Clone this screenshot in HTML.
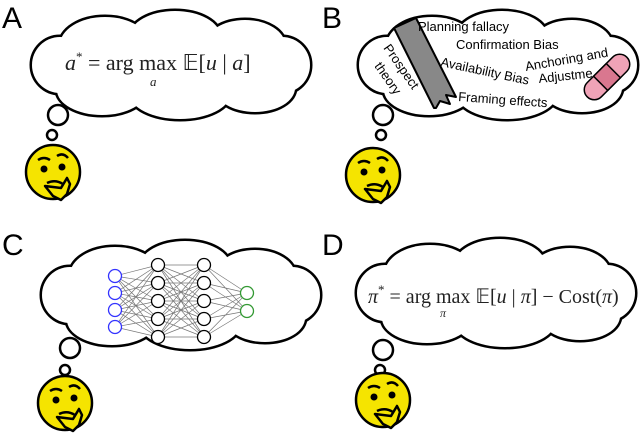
<!DOCTYPE html><html><head><style>body{margin:0;background:#fff}svg{display:block}</style></head><body>
<svg width="640" height="446" viewBox="0 0 640 446" xmlns="http://www.w3.org/2000/svg">
<defs>
<g id="cs"><ellipse cx="140" cy="55" rx="125" ry="35"/><ellipse cx="75" cy="35" rx="45" ry="28"/><ellipse cx="145" cy="26" rx="45" ry="25"/><ellipse cx="215" cy="35" rx="40" ry="25"/><ellipse cx="72" cy="80" rx="45" ry="25"/><ellipse cx="150" cy="84" rx="50" ry="25"/><ellipse cx="225" cy="78" rx="40" ry="24"/><ellipse cx="30" cy="55" rx="28" ry="28"/><ellipse cx="252" cy="55" rx="28" ry="28"/></g>
<g id="cloud"><use href="#cs" fill="none" stroke="#000" stroke-width="5"/><use href="#cs" fill="#fff"/></g>
<g id="emoji"><circle r="27" fill="#f5e400" stroke="#000" stroke-width="2.5"/><circle cx="-9" cy="-3" r="3.5"/><circle cx="9" cy="-5" r="3.5"/><path d="M-15,-12 Q-9,-16 -3,-12" fill="none" stroke="#000" stroke-width="2.5"/><path d="M4,-16 Q10,-20 15,-14" fill="none" stroke="#000" stroke-width="2.5"/><path d="M-6,11 Q2,7 10,12" fill="none" stroke="#000" stroke-width="2.5"/><path d="M-8,14 L8,16 L14,6 L17,12 L14,22 L8,28 L0,24 L-4,19 Z" fill="#f5e400" stroke="#000" stroke-width="2.5" stroke-linejoin="round"/></g>
</defs>
<g font-family="Liberation Sans, sans-serif" font-size="30"><text x="2" y="28">A</text><text x="322" y="28">B</text><text x="2" y="255">C</text><text x="322" y="255">D</text></g>
<g transform="translate(30,10)"><use href="#cloud"/></g>
<g transform="translate(357,10)"><use href="#cloud"/></g>
<g transform="translate(40,240)"><use href="#cloud"/></g>
<g transform="translate(355,238)"><use href="#cloud"/></g>
<g fill="#fff" stroke="#000" stroke-width="2.5">
<circle cx="58" cy="115" r="10"/><circle cx="52" cy="135" r="5"/>
<circle cx="383" cy="115" r="10"/><circle cx="381" cy="135" r="5"/>
<circle cx="70" cy="348" r="10"/><circle cx="65" cy="370" r="5"/>
<circle cx="383" cy="350" r="10"/><circle cx="380" cy="370" r="5"/>
</g>
<use href="#emoji" transform="translate(53,172)"/>
<use href="#emoji" transform="translate(373,175)"/>
<use href="#emoji" transform="translate(65,403)"/>
<use href="#emoji" transform="translate(383,400)"/>
<g font-family="Liberation Serif, serif" font-size="22" fill="#222">
<text x="65" y="70"><tspan font-style="italic">a</tspan><tspan font-size="13" dy="-9">*</tspan><tspan dy="9"> = arg max 𝔼[</tspan><tspan font-style="italic">u</tspan> | <tspan font-style="italic">a</tspan>]</text>
<text x="150" y="86" font-size="13" font-style="italic">a</text>
<text x="368" y="303" font-size="20"><tspan font-style="italic">π</tspan><tspan font-size="13" dy="-9">*</tspan><tspan dy="9"> = arg max 𝔼[</tspan><tspan font-style="italic">u</tspan> | <tspan font-style="italic">π</tspan>] − Cost(<tspan font-style="italic">π</tspan>)</text>
<text x="440" y="317" font-size="12" font-style="italic">π</text>
</g>
<polygon points="394,28 416,18 456,97 446,95 450,104 440,101 436,108 434,108" fill="#888" stroke="#000" stroke-width="2" stroke-linejoin="round"/>
<g font-family="Liberation Sans, sans-serif" font-size="13" fill="#000">
<text x="418" y="31">Planning fallacy</text>
<text x="456" y="49">Confirmation Bias</text>
<text x="440" y="66" transform="rotate(12 440 66)">Availability Bias</text>
<text x="458" y="101" transform="rotate(4 458 101)">Framing effects</text>
<text x="526" y="71" transform="rotate(-10 526 71)">Anchoring and</text>
<text x="539" y="83" transform="rotate(-6 539 83)">Adjustme</text>
<text x="383" y="48" transform="rotate(55 383 48)">Prospect</text>
<text x="374" y="66" transform="rotate(55 374 66)">theory</text>
</g>
<g transform="translate(607,77) rotate(-45)"><rect x="-28" y="-10" width="56" height="20" rx="10" fill="#f0a3b7" stroke="#000" stroke-width="1.5"/><rect x="-9" y="-10" width="18" height="20" fill="#d9778f" stroke="#000" stroke-width="1.5"/></g>
<g stroke="#777" stroke-width="0.7">
<path d="M115,276L158,265M115,276L158,283M115,276L158,301M115,276L158,319M115,276L158,337M115,293L158,265M115,293L158,283M115,293L158,301M115,293L158,319M115,293L158,337M115,310L158,265M115,310L158,283M115,310L158,301M115,310L158,319M115,310L158,337M115,327L158,265M115,327L158,283M115,327L158,301M115,327L158,319M115,327L158,337"/>
<path d="M158,265L204,265M158,265L204,283M158,265L204,301M158,265L204,319M158,265L204,337M158,283L204,265M158,283L204,283M158,283L204,301M158,283L204,319M158,283L204,337M158,301L204,265M158,301L204,283M158,301L204,301M158,301L204,319M158,301L204,337M158,319L204,265M158,319L204,283M158,319L204,301M158,319L204,319M158,319L204,337M158,337L204,265M158,337L204,283M158,337L204,301M158,337L204,319M158,337L204,337"/>
<path d="M204,265L247,293M204,283L247,293M204,301L247,293M204,319L247,293M204,337L247,293M204,265L247,311M204,283L247,311M204,301L247,311M204,319L247,311M204,337L247,311"/>
</g>
<g fill="#fff" stroke-width="1.3">
<g stroke="#33f"><circle cx="115" cy="276" r="6.5"/><circle cx="115" cy="293" r="6.5"/><circle cx="115" cy="310" r="6.5"/><circle cx="115" cy="327" r="6.5"/></g>
<g stroke="#000"><circle cx="158" cy="265" r="6.5"/><circle cx="158" cy="283" r="6.5"/><circle cx="158" cy="301" r="6.5"/><circle cx="158" cy="319" r="6.5"/><circle cx="158" cy="337" r="6.5"/><circle cx="204" cy="265" r="6.5"/><circle cx="204" cy="283" r="6.5"/><circle cx="204" cy="301" r="6.5"/><circle cx="204" cy="319" r="6.5"/><circle cx="204" cy="337" r="6.5"/></g>
<g stroke="#393"><circle cx="247" cy="293" r="6.5"/><circle cx="247" cy="311" r="6.5"/></g>
</g>
</svg>
</body></html>
